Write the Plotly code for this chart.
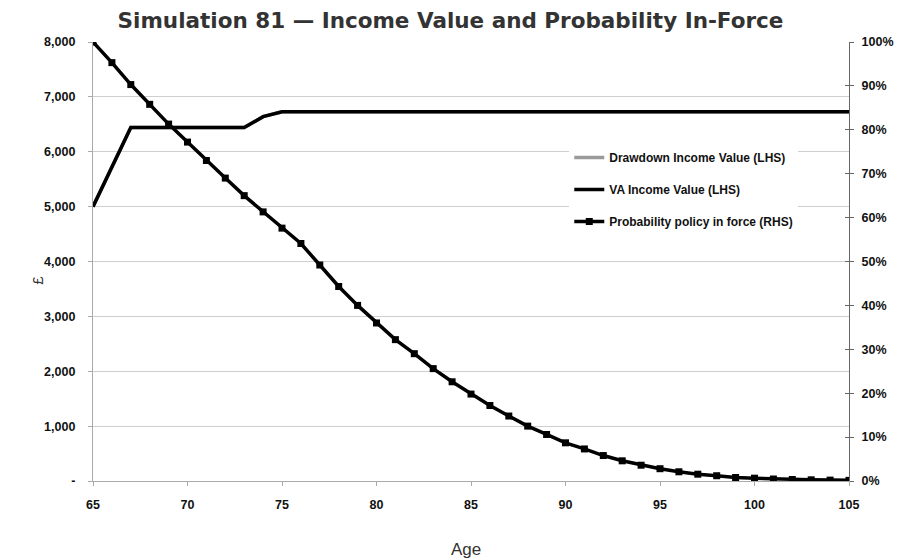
import plotly.graph_objects as go

# Age axis
ages = list(range(65, 106))

# Income values (£) — VA and drawdown follow the same path in this simulation
va_income = [5000, 5720, 6440, 6440, 6440, 6440, 6440, 6440, 6440, 6640] + [6730] * 31
drawdown_income = list(va_income)

# Probability the policy is still in force (%)
prob_in_force = [100, 95.3, 90.3, 85.8, 81.3, 77.2, 73.0, 69.0, 65.0, 61.3,
                 57.6, 54.1, 49.2, 44.3, 40.0, 36.0, 32.2, 29.0, 25.6, 22.6,
                 19.8, 17.2, 14.8, 12.5, 10.6, 8.7, 7.3, 5.8, 4.6, 3.6,
                 2.8, 2.1, 1.55, 1.2, 0.8, 0.64, 0.45, 0.34, 0.27, 0.2, 0.15]

# Axis ticks
x_ticks = [65, 70, 75, 80, 85, 90, 95, 100, 105]
left_tick_vals = [0, 1000, 2000, 3000, 4000, 5000, 6000, 7000, 8000]
left_tick_text = ["-", "1,000", "2,000", "3,000", "4,000", "5,000", "6,000", "7,000", "8,000"]
right_tick_vals = [0, 10, 20, 30, 40, 50, 60, 70, 80, 90, 100]
right_tick_text = ["0%", "10%", "20%", "30%", "40%", "50%", "60%", "70%", "80%", "90%", "100%"]

title_text = "Simulation 81 \u2014 Income Value and Probability In-Force"
x_title = "Age"
y_title = "\u00a3"

FONT = "Liberation Sans, Arial, sans-serif"
tick_font = dict(family=FONT, size=12.5, color="#111", weight="bold")

fig = go.Figure()

fig.add_trace(go.Scatter(
    x=ages, y=drawdown_income, name="Drawdown Income Value (LHS)",
    mode="lines", line=dict(color="#9a9a9a", width=3.5),
    legendgroup="a", yaxis="y"))
fig.add_trace(go.Scatter(
    x=ages, y=va_income, name="VA Income Value (LHS)",
    mode="lines", line=dict(color="#000000", width=3.5),
    legendgroup="b", yaxis="y"))
fig.add_trace(go.Scatter(
    x=ages, y=prob_in_force, name="Probability policy in force (RHS)",
    mode="lines+markers", line=dict(color="#000000", width=3.5),
    marker=dict(symbol="square", size=7, color="#000000"),
    legendgroup="c", yaxis="y2"))
# empty trace so the inner half of the right-axis cross ticks is drawn
fig.add_trace(go.Scatter(x=[None], y=[None], yaxis="y3", showlegend=False,
                         hoverinfo="skip"))

fig.update_layout(
    width=901, height=558,
    margin=dict(l=93, r=52, t=42, b=77, autoexpand=False),
    paper_bgcolor="white", plot_bgcolor="white",
    title=dict(text=title_text, x=0.5, xanchor="center", y=0.963, yanchor="middle",
               font=dict(family="DejaVu Sans, sans-serif", size=21.5, color="#333",
                         weight="bold")),
    showlegend=True,
    legend=dict(x=0.63, y=0.77, xanchor="left", yanchor="top",
                bgcolor="white", borderwidth=0, tracegroupgap=13,
                font=dict(family=FONT, size=12, color="#111", weight="bold")),
    xaxis=dict(range=[65, 105], tickvals=x_ticks, ticks="outside", ticklen=4,
               tickcolor="#aaa", showline=True, linecolor="#aaa", linewidth=1.2,
               showgrid=False, zeroline=False, tickfont=tick_font,
               ticklabelstandoff=8, automargin=False),
    yaxis=dict(range=[0, 8000], tickvals=left_tick_vals, ticktext=left_tick_text,
               showline=True, linecolor="#aaa", linewidth=1.2, ticks="outside",
               ticklen=4, tickcolor="#aaa", ticklabelstandoff=10,
               showgrid=True, gridcolor="#cfcfcf", gridwidth=1.2, zeroline=False,
               tickfont=tick_font, automargin=False),
    yaxis2=dict(range=[0, 100], tickvals=right_tick_vals, ticktext=right_tick_text,
                overlaying="y", side="right", showline=True, linecolor="#666",
                linewidth=1.2, ticks="outside", ticklen=4, tickcolor="#666",
                ticklabelstandoff=5, automargin=False,
                showgrid=False, zeroline=False, tickfont=tick_font),
    yaxis3=dict(range=[0, 100], tickvals=right_tick_vals, overlaying="y",
                side="right", anchor="x", showline=False, ticks="inside",
                ticklen=4, tickcolor="#666", showticklabels=False,
                showgrid=False, zeroline=False, automargin=False),
    annotations=[
        dict(text=x_title, xref="paper", yref="paper", x=0.493, y=-0.157,
             xanchor="center", yanchor="middle", showarrow=False,
             font=dict(family=FONT, size=17, color="#333")),
        dict(text=y_title, xref="paper", yref="paper", x=-0.073, y=0.458,
             xanchor="center", yanchor="middle", showarrow=False, textangle=-90,
             font=dict(family=FONT, size=15, color="#333")),
    ],
)

fig.write_html("out.html")
